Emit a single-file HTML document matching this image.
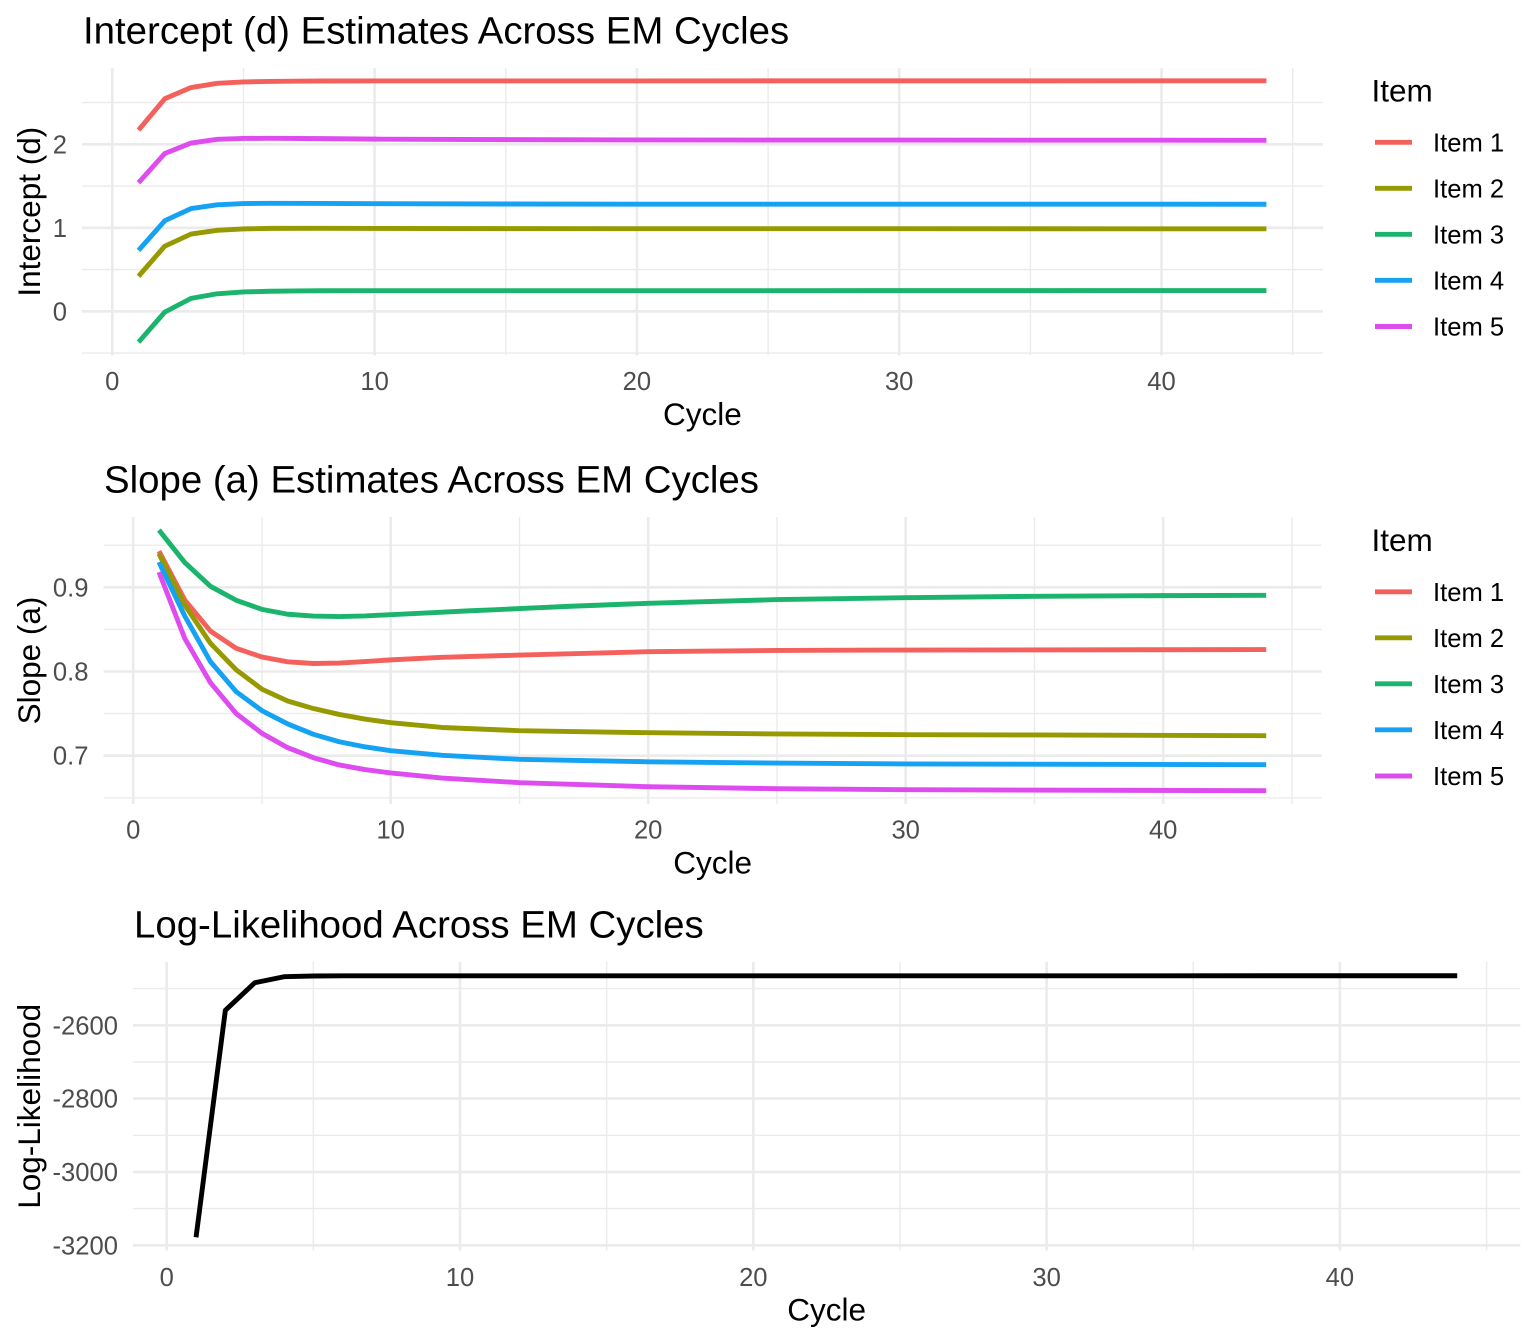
<!DOCTYPE html>
<html>
<head>
<meta charset="utf-8">
<style>
html,body{margin:0;padding:0;background:#fff;}
svg{display:block;}
text{font-family:"Liberation Sans",Arial,sans-serif;}
.tk{font-size:25.6px;fill:#4D4D4D;}
.at{font-size:31.5px;fill:#000;}
.tt{font-size:38.4px;fill:#000;}
.lt{font-size:25.6px;fill:#000;}
.gM{stroke:#EBEBEB;stroke-width:2.6;fill:none;}
.gm{stroke:#EBEBEB;stroke-width:1.4;fill:none;}
.ln{fill:none;stroke-width:4.9;stroke-linejoin:round;stroke-linecap:butt;vector-effect:non-scaling-stroke;}
</style>
</head>
<body>
<svg width="1536" height="1344" viewBox="0 0 1536 1344" xmlns="http://www.w3.org/2000/svg">
<rect width="1536" height="1344" fill="#fff"/>

<!-- ===== Panel 1 ===== -->
<g>
  <g class="gm">
    <line x1="82" x2="1323" y1="353.05" y2="353.05"/>
    <line x1="82" x2="1323" y1="269.55" y2="269.55"/>
    <line x1="82" x2="1323" y1="186.05" y2="186.05"/>
    <line x1="82" x2="1323" y1="102.55" y2="102.55"/>
    <line x1="243.5" x2="243.5" y1="68" y2="355.5"/>
    <line x1="505.8" x2="505.8" y1="68" y2="355.5"/>
    <line x1="768.1" x2="768.1" y1="68" y2="355.5"/>
    <line x1="1030.4" x2="1030.4" y1="68" y2="355.5"/>
    <line x1="1292.7" x2="1292.7" y1="68" y2="355.5"/>
  </g>
  <g class="gM">
    <line x1="82" x2="1323" y1="311.3" y2="311.3"/>
    <line x1="82" x2="1323" y1="227.8" y2="227.8"/>
    <line x1="82" x2="1323" y1="144.3" y2="144.3"/>
    <line x1="112.3" x2="112.3" y1="68" y2="355.5"/>
    <line x1="374.6" x2="374.6" y1="68" y2="355.5"/>
    <line x1="636.9" x2="636.9" y1="68" y2="355.5"/>
    <line x1="899.2" x2="899.2" y1="68" y2="355.5"/>
    <line x1="1161.5" x2="1161.5" y1="68" y2="355.5"/>
  </g>
  <g transform="matrix(26.23 0 0 -83.5 112.3 311.3)">
    <polyline class="ln" stroke="#F4615C" points="1,2.17 2,2.545 3,2.68 4,2.73 5,2.747 6,2.753 7,2.756 8,2.758 10,2.759 44,2.76"/>
    <polyline class="ln" stroke="#969A00" points="1,0.42 2,0.78 3,0.925 4,0.97 5,0.987 6,0.993 8,0.994 10,0.992 15,0.99 44,0.988"/>
    <polyline class="ln" stroke="#1BB46C" points="1,-0.37 2,-0.01 3,0.155 4,0.21 5,0.232 6,0.24 7,0.244 8,0.246 10,0.247 44,0.248"/>
    <polyline class="ln" stroke="#16A2F2" points="1,0.73 2,1.085 3,1.23 4,1.275 5,1.29 6,1.293 8,1.292 10,1.289 15,1.285 20,1.283 44,1.282"/>
    <polyline class="ln" stroke="#DE4BEF" points="1,1.54 2,1.89 3,2.015 4,2.06 5,2.07 6,2.072 8,2.068 10,2.062 15,2.056 20,2.052 44,2.048"/>
  </g>
  <g class="tk" text-anchor="end">
    <text x="67" y="320.3">0</text>
    <text x="67" y="236.8">1</text>
    <text x="67" y="153.3">2</text>
  </g>
  <g class="tk" text-anchor="middle">
    <text x="112.3" y="390">0</text>
    <text x="374.6" y="390">10</text>
    <text x="636.9" y="390">20</text>
    <text x="899.2" y="390">30</text>
    <text x="1161.5" y="390">40</text>
  </g>
  <text class="at" x="702.4" y="425" text-anchor="middle">Cycle</text>
  <text class="at" transform="translate(40,211.7) rotate(-90)" text-anchor="middle">Intercept (d)</text>
  <text class="tt" x="83" y="43.3">Intercept (d) Estimates Across EM Cycles</text>
  <text class="at" x="1371.5" y="101.7">Item</text>
  <g stroke-width="4.9">
    <line x1="1375" x2="1412" y1="142.3" y2="142.3" stroke="#F4615C"/>
    <line x1="1375" x2="1412" y1="188.3" y2="188.3" stroke="#969A00"/>
    <line x1="1375" x2="1412" y1="234.3" y2="234.3" stroke="#1BB46C"/>
    <line x1="1375" x2="1412" y1="280.3" y2="280.3" stroke="#16A2F2"/>
    <line x1="1375" x2="1412" y1="326.5" y2="326.5" stroke="#DE4BEF"/>
  </g>
  <g class="lt">
    <text x="1433" y="151.3">Item 1</text>
    <text x="1433" y="197.3">Item 2</text>
    <text x="1433" y="243.3">Item 3</text>
    <text x="1433" y="289.3">Item 4</text>
    <text x="1433" y="335.5">Item 5</text>
  </g>
</g>

<!-- ===== Panel 2 ===== -->
<g>
  <g class="gm">
    <line x1="103.6" x2="1321.6" y1="545.2" y2="545.2"/>
    <line x1="103.6" x2="1321.6" y1="629.4" y2="629.4"/>
    <line x1="103.6" x2="1321.6" y1="713.6" y2="713.6"/>
    <line x1="103.6" x2="1321.6" y1="797.8" y2="797.8"/>
    <line x1="262" x2="262" y1="517" y2="804"/>
    <line x1="519.5" x2="519.5" y1="517" y2="804"/>
    <line x1="777" x2="777" y1="517" y2="804"/>
    <line x1="1034.5" x2="1034.5" y1="517" y2="804"/>
    <line x1="1292" x2="1292" y1="517" y2="804"/>
  </g>
  <g class="gM">
    <line x1="103.6" x2="1321.6" y1="587.3" y2="587.3"/>
    <line x1="103.6" x2="1321.6" y1="671.5" y2="671.5"/>
    <line x1="103.6" x2="1321.6" y1="755.7" y2="755.7"/>
    <line x1="133.2" x2="133.2" y1="517" y2="804"/>
    <line x1="390.7" x2="390.7" y1="517" y2="804"/>
    <line x1="648.2" x2="648.2" y1="517" y2="804"/>
    <line x1="905.7" x2="905.7" y1="517" y2="804"/>
    <line x1="1163.2" x2="1163.2" y1="517" y2="804"/>
  </g>
  <g transform="matrix(25.75 0 0 -842 133.2 1345.1)">
    <polyline class="ln" stroke="#F4615C" points="1,0.943 2,0.885 3,0.848 4,0.8275 5,0.8172 6,0.8115 7,0.8095 8,0.810 9,0.8118 10,0.8138 12,0.8168 15,0.8195 20,0.8235 25,0.825 30,0.8255 44,0.826"/>
    <polyline class="ln" stroke="#969A00" points="1,0.94 2,0.879 3,0.8335 4,0.802 5,0.779 6,0.765 7,0.756 8,0.749 9,0.7435 10,0.7392 12,0.7335 15,0.7297 20,0.7273 25,0.7258 30,0.725 35,0.7246 44,0.7238"/>
    <polyline class="ln" stroke="#1BB46C" points="1,0.968 2,0.9295 3,0.9012 4,0.8846 5,0.8738 6,0.868 7,0.8658 8,0.8652 9,0.866 10,0.8675 11,0.869 12,0.8705 13,0.872 14,0.8733 15,0.8747 17,0.8775 20,0.881 25,0.8854 30,0.8877 35,0.8893 40,0.8901 44,0.8905"/>
    <polyline class="ln" stroke="#16A2F2" points="1,0.930 2,0.866 3,0.8117 4,0.776 5,0.7535 6,0.7377 7,0.7254 8,0.7166 9,0.7105 10,0.706 12,0.7005 15,0.6957 20,0.6928 25,0.6912 30,0.6902 44,0.6893"/>
    <polyline class="ln" stroke="#DE4BEF" points="1,0.918 2,0.8394 3,0.7867 4,0.750 5,0.7266 6,0.7095 7,0.6976 8,0.689 9,0.6835 10,0.6795 12,0.6735 15,0.668 20,0.6632 25,0.6608 30,0.6596 44,0.6584"/>
  </g>
  <g class="tk" text-anchor="end">
    <text x="88.5" y="596.3">0.9</text>
    <text x="88.5" y="680.5">0.8</text>
    <text x="88.5" y="764.7">0.7</text>
  </g>
  <g class="tk" text-anchor="middle">
    <text x="133.2" y="838.5">0</text>
    <text x="390.7" y="838.5">10</text>
    <text x="648.2" y="838.5">20</text>
    <text x="905.7" y="838.5">30</text>
    <text x="1163.2" y="838.5">40</text>
  </g>
  <text class="at" x="712.6" y="873.5" text-anchor="middle">Cycle</text>
  <text class="at" transform="translate(40,660.5) rotate(-90)" text-anchor="middle">Slope (a)</text>
  <text class="tt" x="104" y="492.5">Slope (a) Estimates Across EM Cycles</text>
  <text class="at" x="1371.5" y="551.2">Item</text>
  <g stroke-width="4.9">
    <line x1="1375" x2="1412" y1="591.8" y2="591.8" stroke="#F4615C"/>
    <line x1="1375" x2="1412" y1="637.8" y2="637.8" stroke="#969A00"/>
    <line x1="1375" x2="1412" y1="683.8" y2="683.8" stroke="#1BB46C"/>
    <line x1="1375" x2="1412" y1="729.8" y2="729.8" stroke="#16A2F2"/>
    <line x1="1375" x2="1412" y1="776" y2="776" stroke="#DE4BEF"/>
  </g>
  <g class="lt">
    <text x="1433" y="600.8">Item 1</text>
    <text x="1433" y="646.8">Item 2</text>
    <text x="1433" y="692.8">Item 3</text>
    <text x="1433" y="738.8">Item 4</text>
    <text x="1433" y="785">Item 5</text>
  </g>
</g>

<!-- ===== Panel 3 ===== -->
<g>
  <g class="gm">
    <line x1="133" x2="1520.3" y1="1208.6" y2="1208.6"/>
    <line x1="133" x2="1520.3" y1="1135.3" y2="1135.3"/>
    <line x1="133" x2="1520.3" y1="1062" y2="1062"/>
    <line x1="133" x2="1520.3" y1="988.6" y2="988.6"/>
    <line x1="313.35" x2="313.35" y1="962" y2="1250.5"/>
    <line x1="606.65" x2="606.65" y1="962" y2="1250.5"/>
    <line x1="899.95" x2="899.95" y1="962" y2="1250.5"/>
    <line x1="1193.25" x2="1193.25" y1="962" y2="1250.5"/>
    <line x1="1486.55" x2="1486.55" y1="962" y2="1250.5"/>
  </g>
  <g class="gM">
    <line x1="133" x2="1520.3" y1="1245.3" y2="1245.3"/>
    <line x1="133" x2="1520.3" y1="1172" y2="1172"/>
    <line x1="133" x2="1520.3" y1="1098.6" y2="1098.6"/>
    <line x1="133" x2="1520.3" y1="1025.3" y2="1025.3"/>
    <line x1="166.7" x2="166.7" y1="962" y2="1250.5"/>
    <line x1="460" x2="460" y1="962" y2="1250.5"/>
    <line x1="753.3" x2="753.3" y1="962" y2="1250.5"/>
    <line x1="1046.6" x2="1046.6" y1="962" y2="1250.5"/>
    <line x1="1339.9" x2="1339.9" y1="962" y2="1250.5"/>
  </g>
  <g transform="matrix(29.33 0 0 -0.3667 166.7 71.9)">
    <polyline class="ln" stroke="#000" points="1,-3178 2,-2559 3,-2484 4,-2467.5 5,-2465.5 6,-2465 44,-2464.8"/>
  </g>
  <g class="tk" text-anchor="end">
    <text x="118" y="1254.3">-3200</text>
    <text x="118" y="1181">-3000</text>
    <text x="118" y="1107.6">-2800</text>
    <text x="118" y="1034.3">-2600</text>
  </g>
  <g class="tk" text-anchor="middle">
    <text x="166.7" y="1286">0</text>
    <text x="460" y="1286">10</text>
    <text x="753.3" y="1286">20</text>
    <text x="1046.6" y="1286">30</text>
    <text x="1339.9" y="1286">40</text>
  </g>
  <text class="at" x="826.6" y="1320.5" text-anchor="middle">Cycle</text>
  <text class="at" transform="translate(40,1106.3) rotate(-90)" text-anchor="middle">Log-Likelihood</text>
  <text class="tt" x="134" y="937.5">Log-Likelihood Across EM Cycles</text>
</g>
</svg>
</body>
</html>
